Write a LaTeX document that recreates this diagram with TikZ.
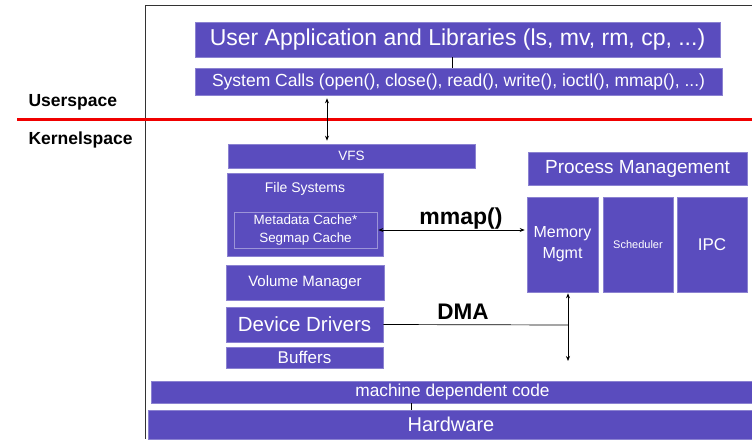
\documentclass[tikz,border=0pt]{standalone}
\usepackage{fontspec}
\setmainfont{Liberation Sans}
\usetikzlibrary{arrows.meta}
\definecolor{boxfill}{RGB}{90,76,190}
\definecolor{redline}{RGB}{240,0,0}
\begin{document}
\begin{tikzpicture}[x=1pt,y=-1pt,
  blk/.style={fill=boxfill,draw=boxfill!70!white,line width=0.6pt,text=white,inner sep=0pt},
  conn/.style={draw=black,line width=0.7pt},
  darr/.style={conn,{Stealth[length=5pt,width=4pt]}-{Stealth[length=5pt,width=4pt]}},
  fs/.style={font=\fontsize{#1}{#1}\selectfont}]
\useasboundingbox (0,0) rectangle (752,439);
\fill[white] (0,0) rectangle (752,439);
% frame
\draw[black!80,line width=0.7pt] (145,439) -- (145,5) -- (752,5);
% boxes
\node[blk,minimum width=525,minimum height=35,fs=23] (app) at (457.5,39.5) {User Application and Libraries (ls, mv, rm, cp, ...)};
\node[blk,minimum width=527,minimum height=27,fs=17.5] (sys) at (458.5,81.5) {System Calls (open(), close(), read(), write(), ioctl(), mmap(), ...)};
\node[blk,minimum width=247,minimum height=24,fs=13.5] (vfs) at (351.5,156) {VFS};
\node[blk,minimum width=156,minimum height=83,anchor=north] (fsys) at (305,173) {};
\node[fs=14,text=white] (fstxt) at (305,189) {File Systems};
\node[blk,draw=boxfill!60!white,minimum width=143,minimum height=36,fs=13.4,align=center] (meta) at (305.5,230) {Metadata Cache*\\[4pt]Segmap Cache};
\node[blk,minimum width=158,minimum height=35,fs=15] (vol) at (305,282.5) {Volume Manager};
\node[blk,minimum width=157,minimum height=35,fs=20.5] (dd) at (304.5,324.5) {Device Drivers};
\node[blk,minimum width=157,minimum height=21,fs=17] (buf) at (304.5,357.5) {Buffers};
\node[blk,minimum width=219,minimum height=33,fs=19] (pm) at (637.5,168.5) {Process Management};
\node[blk,minimum width=71,minimum height=95,fs=16,align=center] (mem) at (562.5,244.5) {Memory\\[5pt]Mgmt};
\node[blk,minimum width=70,minimum height=95,fs=11] (sch) at (638,244.5) {Scheduler};
\node[blk,minimum width=70,minimum height=95,fs=17] (ipc) at (712,244.5) {IPC};
\node[blk,minimum width=603,minimum height=22,fs=17.3] (mdc) at (452.5,392) {machine dependent code};
\node[blk,minimum width=606,minimum height=29,fs=20] (hw) at (451,424.5) {Hardware};
% labels
\node[font=\bfseries\fontsize{17.5}{17.5}\selectfont,anchor=west] (us) at (25,102) {Userspace};
\node[font=\bfseries\fontsize{17.5}{17.5}\selectfont,anchor=west] (ks) at (25,140) {Kernelspace};
\node[font=\bfseries\fontsize{23}{23}\selectfont] (mmaplbl) at (461,219) {mmap()};
\node[font=\bfseries\fontsize{22.5}{22.5}\selectfont] (dmalbl) at (463,312) {DMA};
% red line
\coordinate (rl) at (17,119);
\coordinate (rr) at (752,119);
\draw[redline,line width=3pt] (rl) -- (rr);
% connector guide coordinates
\coordinate (xa) at (452,0);
\coordinate (xb) at (327,0);
\coordinate (xc) at (411,0);
\coordinate (dmaj) at (568,325);
\coordinate (dmaend) at (568,361);
% connectors
\draw[conn] (app.south -| xa) -- (sys.north -| xa);
\draw[darr] ([yshift=-3pt]sys.south -| xb) -- ([yshift=3pt]vfs.north -| xb);
\draw[darr] ([xshift=1pt]meta.east) -- ([xshift=-2pt]mem.west |- meta.east);
\draw[conn] (dd.east) -- (dmaj);
\draw[darr] ([yshift=-1pt]mem.south -| dmaj) -- (dmaend);
\draw[conn] (mdc.south -| xc) -- (hw.north -| xc);
\end{tikzpicture}
\end{document}
